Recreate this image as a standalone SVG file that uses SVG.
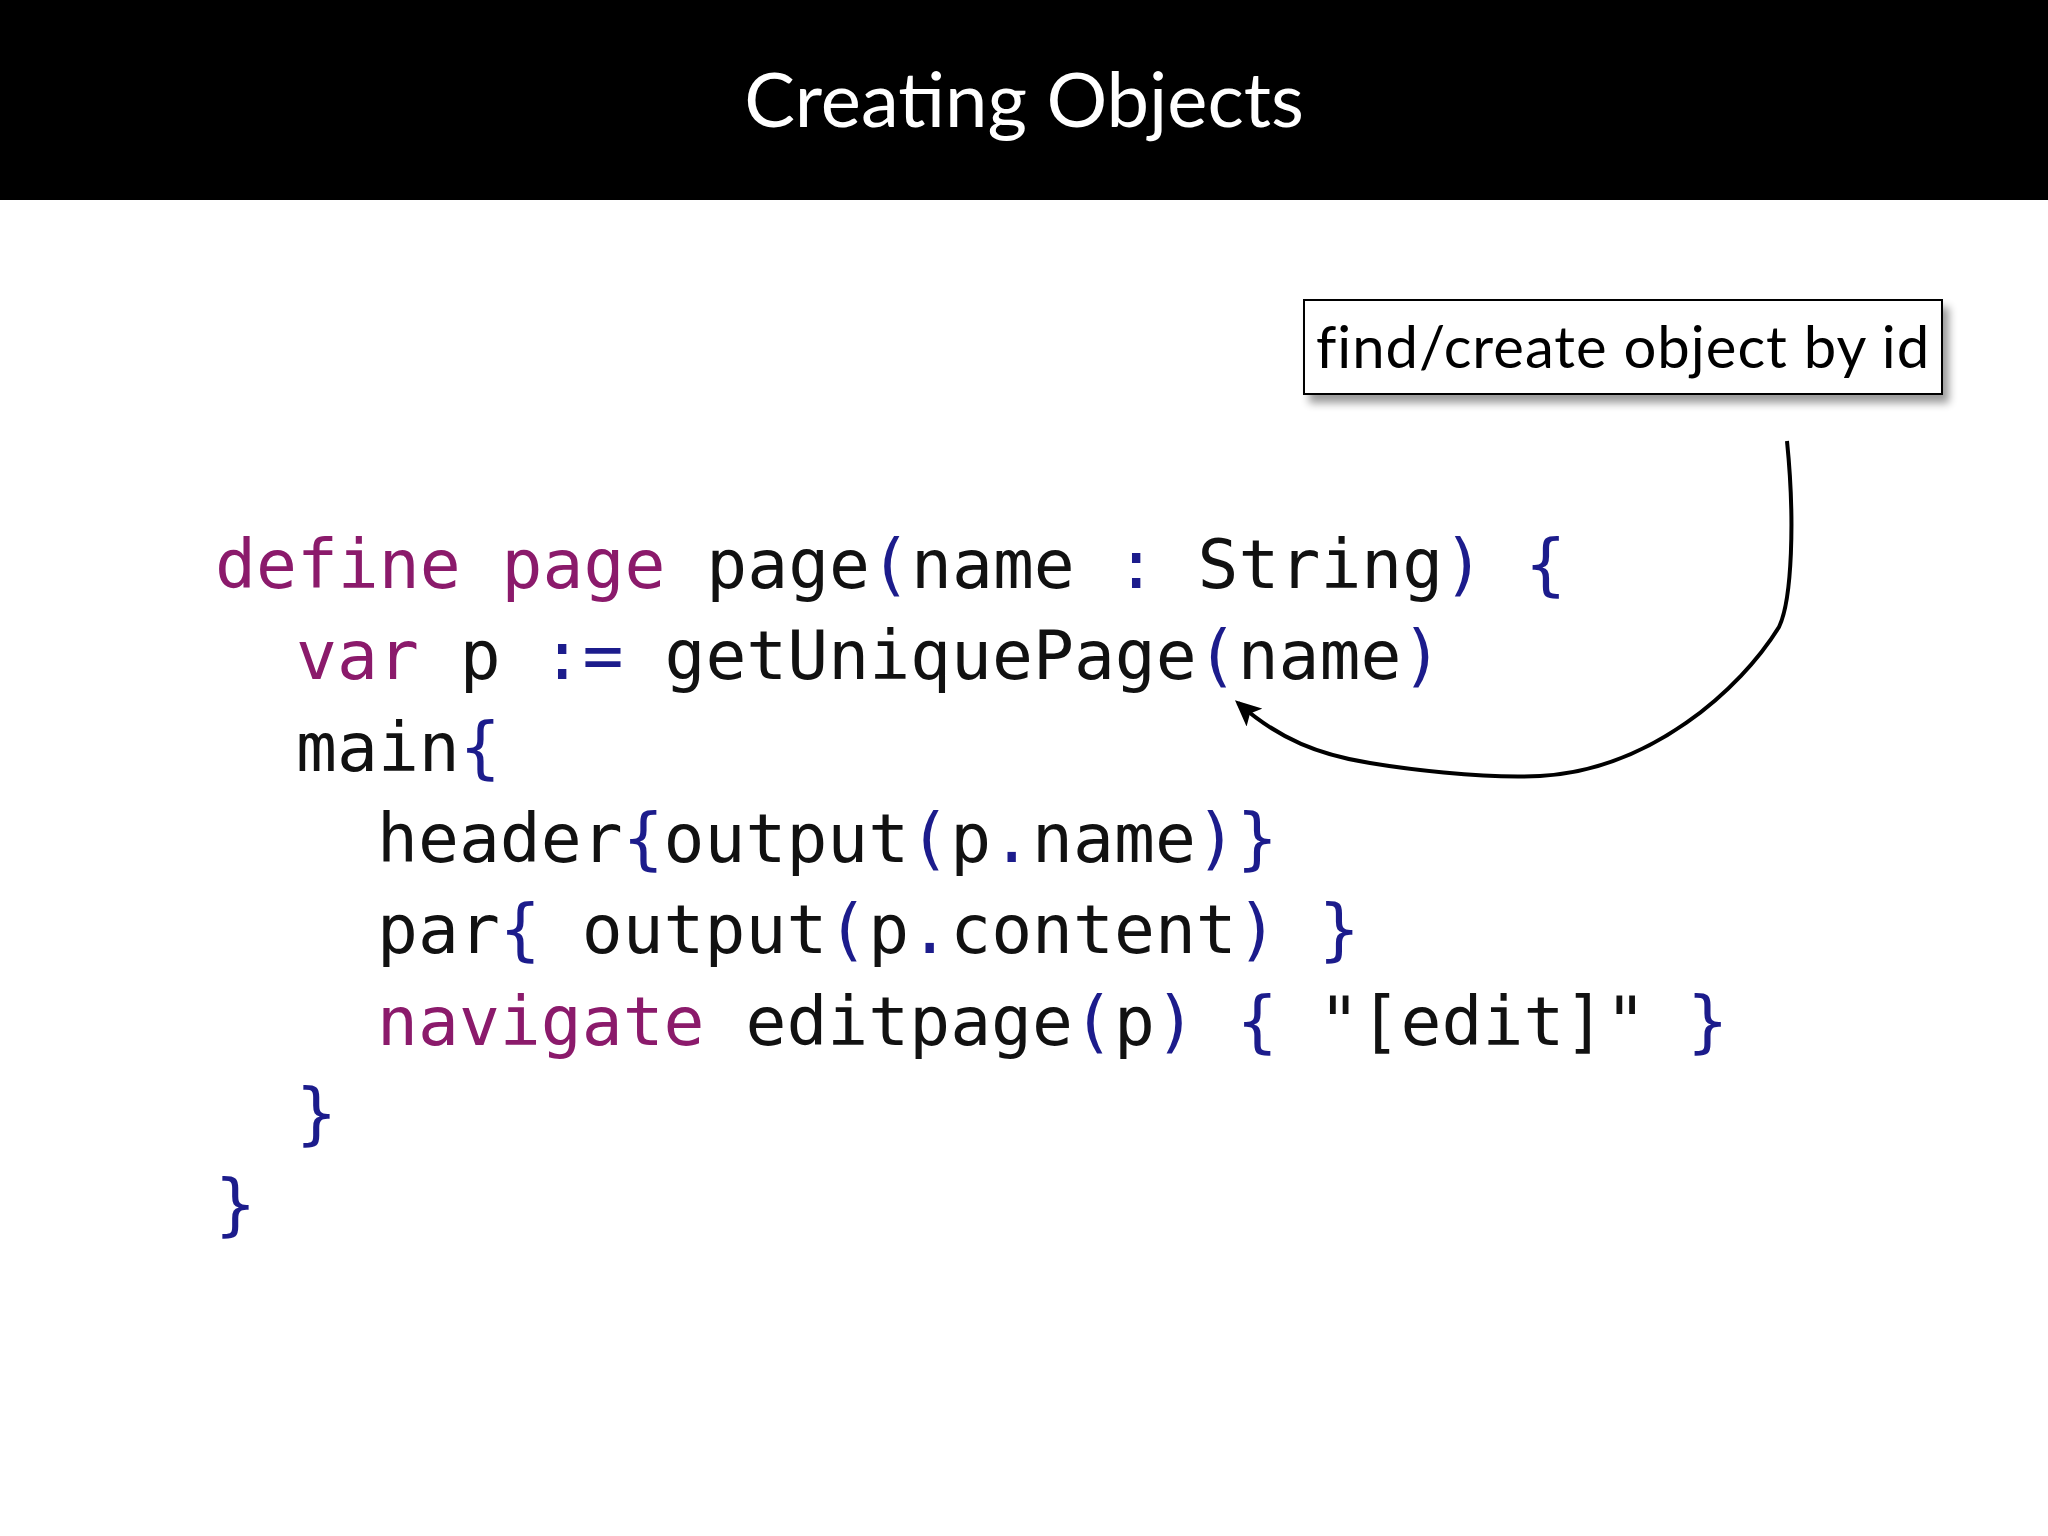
<svg xmlns="http://www.w3.org/2000/svg" width="2048" height="1536" viewBox="0 0 2048 1536">
<style>
.code{font-family:"DejaVu Sans Mono",monospace;font-size:68px;fill:#111}
.k{fill:#8b1a6b}.p{fill:#1c1c8c}
</style>
<defs>
<marker id="ah" markerWidth="28" markerHeight="24" refX="22" refY="12" orient="auto" markerUnits="userSpaceOnUse" viewBox="0 0 28 24"><path d="M0,0 L26,12 L0,24 L6,12 z" fill="#000"/></marker>
<filter id="sh" x="-10%" y="-20%" width="130%" height="160%"><feGaussianBlur in="SourceAlpha" stdDeviation="4"/><feOffset dx="6" dy="8"/><feComponentTransfer><feFuncA type="linear" slope="0.4"/></feComponentTransfer><feMerge><feMergeNode/><feMergeNode in="SourceGraphic"/></feMerge></filter>
</defs>
<rect width="2048" height="1536" fill="#fff"/>
<rect width="2048" height="200" fill="#000"/>
<text x="1024" y="127" text-anchor="middle" font-family="Lato, 'Open Sans', sans-serif" font-size="76" fill="#fff">Creating Objects</text>
<g id="note">
<rect x="1304" y="300" width="638" height="94" fill="#fff" stroke="#000" stroke-width="2" filter="url(#sh)"/>
<text x="1316" y="368" font-family="Lato, 'Open Sans', sans-serif" font-size="58" letter-spacing="1" fill="#000">find/create object by id</text>
</g>
<g id="code" class="code" xml:space="preserve">
<text x="215" y="588"><tspan class="k">define page</tspan> page<tspan class="p">(</tspan>name <tspan class="p">:</tspan> String<tspan class="p">)</tspan> <tspan class="p">{</tspan></text>
<text x="296" y="679"><tspan class="k">var</tspan> p <tspan class="p">:=</tspan> getUniquePage<tspan class="p">(</tspan>name<tspan class="p">)</tspan></text>
<text x="296" y="771">main<tspan class="p">{</tspan></text>
<text x="377" y="862">header<tspan class="p">{</tspan>output<tspan class="p">(</tspan>p<tspan class="p">.</tspan>name<tspan class="p">)}</tspan></text>
<text x="377" y="953">par<tspan class="p">{</tspan> output<tspan class="p">(</tspan>p<tspan class="p">.</tspan>content<tspan class="p">)</tspan> <tspan class="p">}</tspan></text>
<text x="377" y="1045"><tspan class="k">navigate</tspan> editpage<tspan class="p">(</tspan>p<tspan class="p">)</tspan> <tspan class="p">{</tspan> "[edit]" <tspan class="p">}</tspan></text>
<text x="296" y="1137" class="p">}</text>
<text x="215" y="1228" class="p">}</text>
</g>
<g id="connectors">
<path d="M1787,441 C1795,520 1792,600 1779,627 C1740,690 1650,770 1540,776 C1480,779 1400,768 1370,763 C1320,755 1280,740 1238,703" fill="none" stroke="#000" stroke-width="4" marker-end="url(#ah)"/>
</g>
</svg>
